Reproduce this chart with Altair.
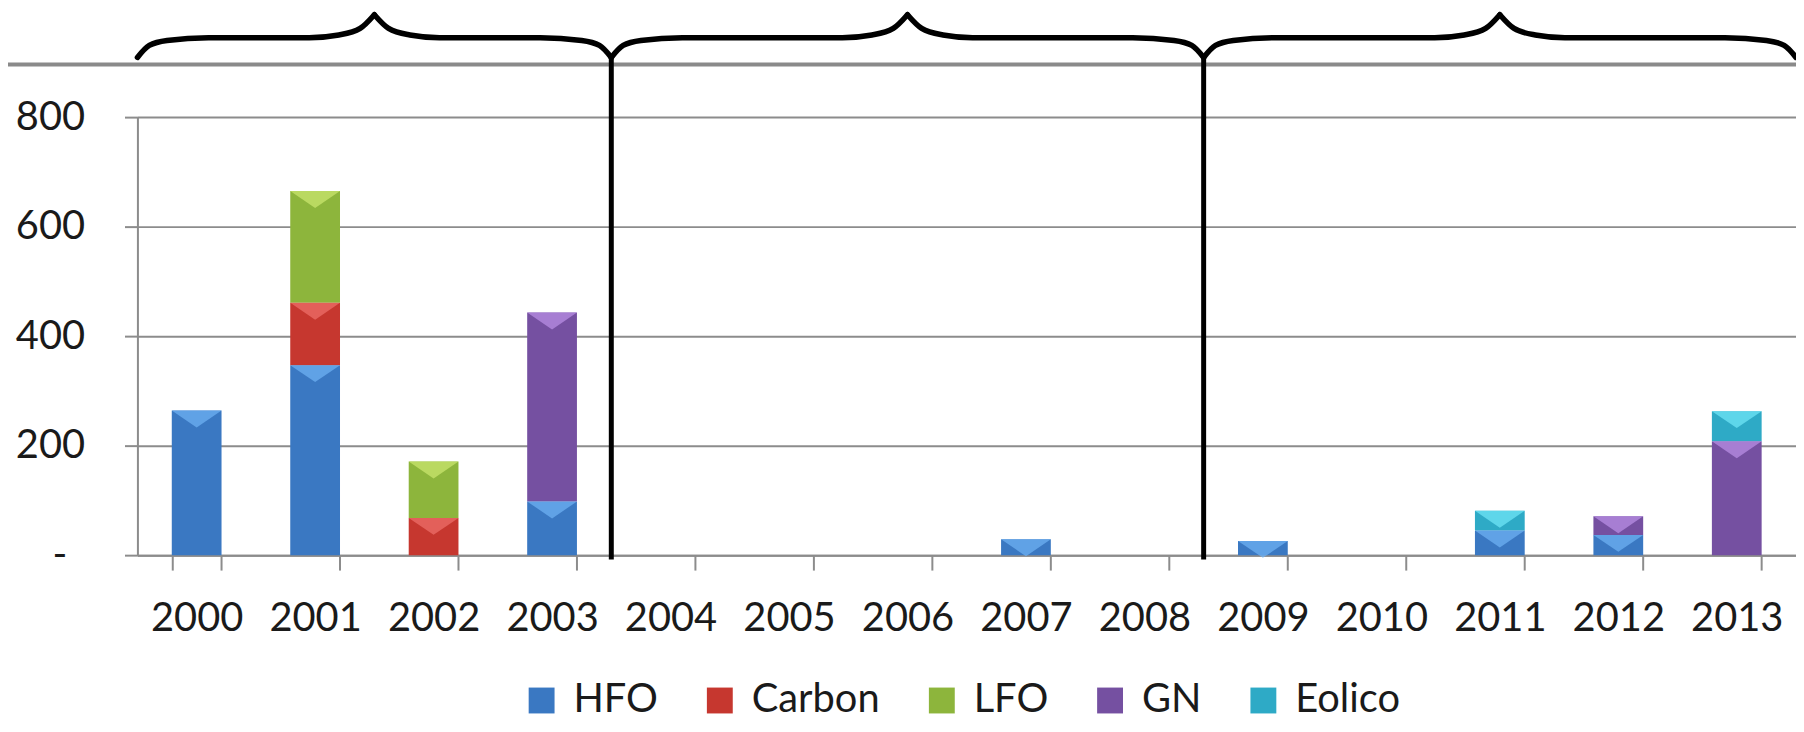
import altair as alt
import pandas as pd

# ---------------- data ----------------
years = [str(y) for y in range(2000, 2014)]
fuels = ["HFO", "Carbon", "LFO", "GN", "Eolico"]
fuel_colors = ["#3a78c2", "#c6372f", "#8db53c", "#7550a1", "#2eaac6"]
fuel_highlights = ["#6db0f2", "#ec6f6a", "#c9e56d", "#b88ee4", "#6fe4f6"]

hfo    = [264, 347,   0,  98, 0, 0, 0, 29, 0, 26, 0, 45, 37,   0]
carbon = [  0, 114,  68,   0, 0, 0, 0,  0, 0,  0, 0,  0,  0,   0]
lfo    = [  0, 204, 103,   0, 0, 0, 0,  0, 0,  0, 0,  0,  0,   0]
gn     = [  0,   0,   0, 345, 0, 0, 0,  0, 0,  0, 0,  0, 34, 208]
eolico = [  0,   0,   0,   0, 0, 0, 0,  0, 0,  0, 0, 36,  0,  55]

y_ticks = [0, 200, 400, 600, 800]
period_bounds = [0, 4, 9, 14]   # category boundaries of the three periods

# ---------------- tables ----------------
series = [hfo, carbon, lfo, gn, eolico]
rows = []
for k, (fuel, vals) in enumerate(zip(fuels, series)):
    for yr, v in zip(years, vals):
        rows.append({"year": yr, "fuel": fuel, "value": v, "k": k})
bars_df = pd.DataFrame(rows)

# brace shape (annotation) in category-index units / value units
END_V, FLAT_V, PEAK_V = 909, 945, 987
half_shape = [(0.0, END_V), (0.1, 931), (0.25, 940), (0.6, FLAT_V)]
peak_shape = [(-0.55, FLAT_V), (-0.3, 950), (-0.12, 962), (0.0, PEAK_V)]
brace_rows = []
for p in range(len(period_bounds) - 1):
    a, b = period_bounds[p], period_bounds[p + 1]
    m = (a + b) / 2
    for dx, v in half_shape:
        brace_rows.append({"seg": f"{p}L", "x": a + dx, "v": v})
        brace_rows.append({"seg": f"{p}R", "x": b - dx, "v": v})
    for dx, v in peak_shape:
        brace_rows.append({"seg": f"{p}L", "x": m + dx, "v": v})
        brace_rows.append({"seg": f"{p}R", "x": m - dx, "v": v})
brace_df = pd.DataFrame(brace_rows)

divider_df = pd.DataFrame({"x": period_bounds[1:-1], "v": [-8] * 2, "v2": [END_V] * 2})
topline_df = pd.DataFrame({"x": [-1.2], "x2": [14.2], "v": [896]})

GRAY = "#8c8c8c"
FONT = "Lato"
TXT = "#1a1a1a"

x_scale = alt.Scale(domain=years, paddingInner=0.58, paddingOuter=0.29)
y_scale = alt.Scale(domain=[0, 800], nice=False)

# ---------------- bars ----------------
bars = alt.Chart(bars_df).mark_bar().encode(
    x=alt.X(
        "year:N",
        scale=x_scale,
        axis=alt.Axis(
            title=None, labelAngle=0, labelFont=FONT, labelFontSize=40,
            labelColor=TXT, tickBand="extent", tickSize=15, tickColor=GRAY,
            tickWidth=2, domainColor=GRAY, domainWidth=2, labelPadding=29,
            grid=False,
        ),
    ),
    y=alt.Y(
        "value:Q", stack="zero",
        scale=y_scale,
        axis=alt.Axis(
            title=None, values=y_ticks,
            labelExpr="datum.value == 0 ? '-' : datum.label",
            labelFont=FONT, labelFontSize=40, labelColor=TXT,
            tickSize=13, tickColor=GRAY, tickWidth=2,
            labelPadding={"condition": {"test": "datum.value == 0", "value": 58},
                          "value": 40},
            grid=True, gridColor=GRAY, gridWidth=2,
            domainColor=GRAY, domainWidth=2,
        ),
    ),
    color=alt.Color(
        "fuel:N",
        scale=alt.Scale(domain=fuels, range=fuel_colors),
        legend=alt.Legend(
            orient="none", legendX=386, legendY=566, direction="horizontal",
            title=None, symbolType="square", symbolSize=676,
            symbolStrokeWidth=0, labelFont=FONT, labelFontSize=40,
            labelColor=TXT, labelOffset=12, columnPadding=42, padding=0,
        ),
    ),
    order=alt.Order("k:Q"),
)

# bevel highlight: light inverted triangle at the top of every segment
bevels = alt.Chart(bars_df).transform_filter(
    alt.datum.value > 0
).transform_stack(
    stack="value", groupby=["year"], sort=[alt.SortField("k")], as_=["v0", "v1"]
).mark_point(
    shape="M -1 -1 L 1 -1 L 0 -0.32 Z", filled=True, size=2500,
    opacity=0.75, yOffset=25, strokeWidth=0,
).encode(
    x=alt.X("year:N", scale=x_scale, axis=None),
    y=alt.Y("v1:Q", scale=y_scale, axis=None),
    color=alt.Color("fuel:N", scale=alt.Scale(domain=fuels, range=fuel_highlights),
                    legend=None),
)

dx_scale = alt.Scale(domain=[0, 14], nice=False, zero=False)
dv_scale = alt.Scale(domain=[0, 800], nice=False, zero=False)

topline = alt.Chart(topline_df).mark_rule(
    color="#8a8a8a", strokeWidth=4, clip=False
).encode(
    x=alt.X("x:Q", scale=dx_scale, axis=None),
    x2="x2:Q",
    y=alt.Y("v:Q", scale=dv_scale, axis=None),
)

braces = alt.Chart(brace_df).mark_line(
    color="black", strokeWidth=5.5, interpolate="monotone", clip=False,
    strokeCap="round", strokeJoin="round",
).encode(
    x=alt.X("x:Q", scale=dx_scale, axis=None),
    y=alt.Y("v:Q", scale=dv_scale, axis=None),
    detail="seg:N",
    order="x:Q",
)

dividers = alt.Chart(divider_df).mark_rule(
    color="black", strokeWidth=5, clip=False
).encode(
    x=alt.X("x:Q", scale=dx_scale, axis=None),
    y=alt.Y("v:Q", scale=dv_scale, axis=None),
    y2="v2:Q",
)

chart = (
    alt.layer(bars, bevels, topline, braces, dividers)
    .resolve_scale(x="independent", y="independent", color="independent")
    .properties(
        width=1666, height=440,
        autosize=alt.AutoSizeParams(type="none"),
        padding={"left": 130, "top": 108, "right": 0, "bottom": 168},
    )
    .configure_view(stroke=None)
)

chart.save("out.html", embed_options={"renderer": "svg", "actions": False})
